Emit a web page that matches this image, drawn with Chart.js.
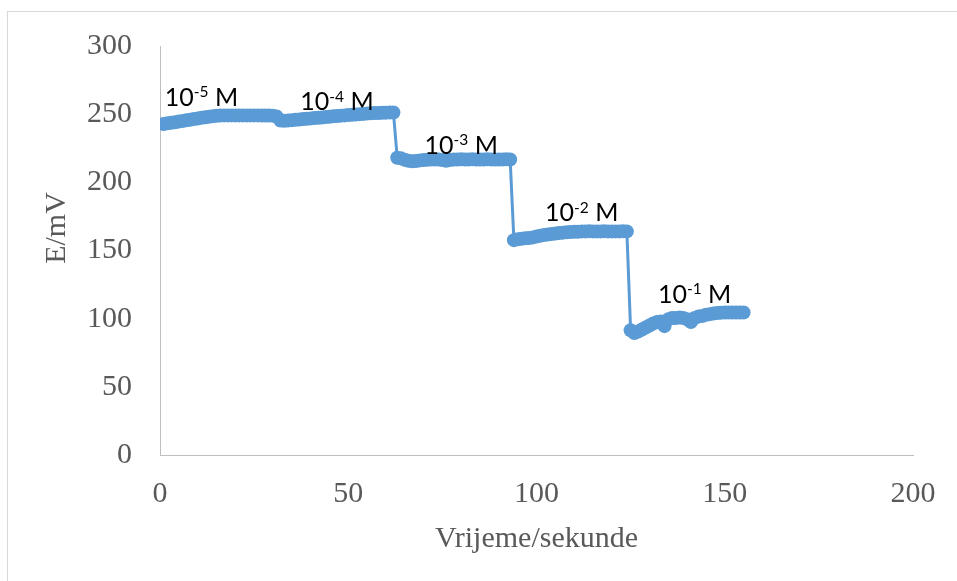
<!DOCTYPE html>
<html><head><meta charset="utf-8">
<script src="https://cdn.jsdelivr.net/npm/chart.js@4.4.0/dist/chart.umd.min.js"></script>
<style>
html,body{margin:0;padding:0;background:#fff;}
#wrap{position:relative;width:957px;height:581px;overflow:hidden;background:#fff;}
#frame{position:absolute;left:7px;top:11px;width:1000px;height:1000px;border-top:1px solid #d9d9d9;border-left:1px solid #d9d9d9;}
canvas{position:absolute;left:0;top:0;}
</style></head><body>
<div id="wrap"><div id="frame"></div><canvas id="c" width="957" height="581"></canvas></div>
<script>
// time in seconds
const timeSec = [
  1,2,3,4,5,6,7,8,9,10,11,12,13,14,15,16,17,18,19,20,21,22,23,24,25,26,27,28,29,30,31,
  32,33,34,35,36,37,38,39,40,41,42,43,44,45,46,47,48,49,50,51,52,53,54,55,56,57,58,59,60,61,62,
  63,64,65,66,67,68,69,70,71,72,73,74,75,76,77,78,79,80,81,82,83,84,85,86,87,88,89,90,91,92,93,
  94,95,96,97,98,99,100,101,102,103,104,105,106,107,108,109,110,111,112,113,114,115,116,117,118,119,120,121,122,123,124,
  125,126,127,128,129,130,131,132,133,134,135,136,137,138,139,140,141,142,143,144,145,146,147,148,149,150,151,152,153,154,155
];
// potential E in mV
const eValues = [
  242.8,243.3,243.7,244.1,244.6,245.0,245.5,245.9,246.4,246.8,247.3,247.7,248.1,248.5,248.8,249.0,
  249.1,249.1,249.1,249.1,249.1,249.1,249.1,249.1,249.1,249.1,249.0,249.0,249.0,248.9,248.2,
  245.4,245.2,245.4,245.6,245.9,246.1,246.4,246.6,246.9,247.1,247.4,247.6,247.9,248.1,248.4,248.6,
  248.9,249.1,249.4,249.6,249.8,250.0,250.2,250.4,250.6,250.8,250.9,251.0,251.1,251.2,251.2,
  218.0,217.6,216.6,215.8,215.4,215.6,216.1,216.4,216.6,216.7,216.8,216.8,216.4,215.8,216.4,216.8,
  216.8,216.9,216.8,216.8,216.9,216.8,216.8,216.8,216.9,216.8,216.8,216.8,216.8,216.9,216.8,
  157.6,158.2,158.6,158.9,159.2,159.6,160.2,160.8,161.3,161.7,162.1,162.5,162.8,163.1,163.3,163.5,163.7,163.8,
  164.0,164.0,164.1,164.0,164.0,164.0,164.1,164.0,164.0,164.0,164.0,164.1,164.0,
  91.5,89.5,90.5,92.0,93.5,95.0,96.5,97.5,98.0,94.5,99.5,100.5,100.5,100.8,100.5,99.5,97.5,
  100.5,101.5,102.0,102.8,103.3,103.8,104.2,104.4,104.5,104.5,104.5,104.5,104.5,104.5
];
// concentration annotations
const labelBase = ['10','10','10','10','10'];
const labelExp = ['-5','-4','-3','-2','-1'];
const labelUnit = ' M';
const labelTime = [11, 47, 80, 112, 142];
const labelE = [256, 253, 221, 171.5, 111.5];

const xTickStep = 50, xMin = 0, xMax = 200;
const yTickStep = 50, yMin = 0, yMax = 300;
const xTitle = 'Vrijeme/sekunde';
const yTitle = 'E/mV';

const concLabels = {
  id: 'concLabels',
  afterDatasetsDraw(chart) {
    const {ctx, scales: {x, y}} = chart;
    ctx.save();
    ctx.fillStyle = '#000';
    ctx.textBaseline = 'alphabetic';
    ctx.textAlign = 'left';
    const big = '25px Lato', small = '15.5px Lato';
    for (let i = 0; i < labelBase.length; i++) {
      ctx.font = big;
      const w1 = ctx.measureText(labelBase[i]).width;
      const w3 = ctx.measureText(labelUnit).width;
      ctx.font = small;
      const w2 = ctx.measureText(labelExp[i]).width;
      const total = w1 + w2 + w3;
      const px = x.getPixelForValue(labelTime[i]) - total / 2;
      const py = y.getPixelForValue(labelE[i]);
      ctx.font = big;
      ctx.fillText(labelBase[i], px, py);
      ctx.font = small;
      ctx.fillText(labelExp[i], px + w1, py - 8.5);
      ctx.font = big;
      ctx.fillText(labelUnit, px + w1 + w2, py);
    }
    ctx.restore();
  }
};

const serif = 'Liberation Serif';
new Chart(document.getElementById('c'), {
  type: 'scatter',
  data: {
    datasets: [{
      data: timeSec.map((t, i) => ({x: t, y: eValues[i]})),
      showLine: true,
      borderColor: '#5B9BD5',
      backgroundColor: '#5B9BD5',
      borderWidth: 3,
      pointRadius: 7,
      pointBorderWidth: 0,
      pointHoverRadius: 7,
      pointBackgroundColor: '#5B9BD5'
    }]
  },
  options: {
    responsive: false,
    animation: false,
    events: [],
    plugins: {legend: {display: false}, tooltip: {enabled: false}},
    layout: {padding: {left: 0, top: 43, right: 44, bottom: 0}},
    scales: {
      x: {
        type: 'linear', min: xMin, max: xMax,
        ticks: {stepSize: xTickStep, font: {family: serif, size: 30}, color: '#595959', padding: 21, maxRotation: 0},
        grid: {display: false, drawTicks: false},
        border: {display: true, color: '#bfbfbf', width: 1},
        title: {display: true, text: xTitle, font: {family: serif, size: 30}, color: '#595959', padding: {top: 0, bottom: 24}},
        afterFit: s => { s.height = 126; }
      },
      y: {
        type: 'linear', min: yMin, max: yMax,
        ticks: {stepSize: yTickStep, font: {family: serif, size: 30}, color: '#595959', padding: 28},
        grid: {display: false, drawTicks: false},
        border: {display: true, color: '#bfbfbf', width: 1},
        title: {display: true, text: '\u00A0\u00A0\u00A0\u00A0\u00A0\u00A0' + yTitle, font: {family: serif, size: 30}, color: '#595959', padding: {top: 39, bottom: 0}},
        afterFit: s => { s.width = 160; }
      }
    }
  },
  plugins: [concLabels]
});
</script>
</body></html>
